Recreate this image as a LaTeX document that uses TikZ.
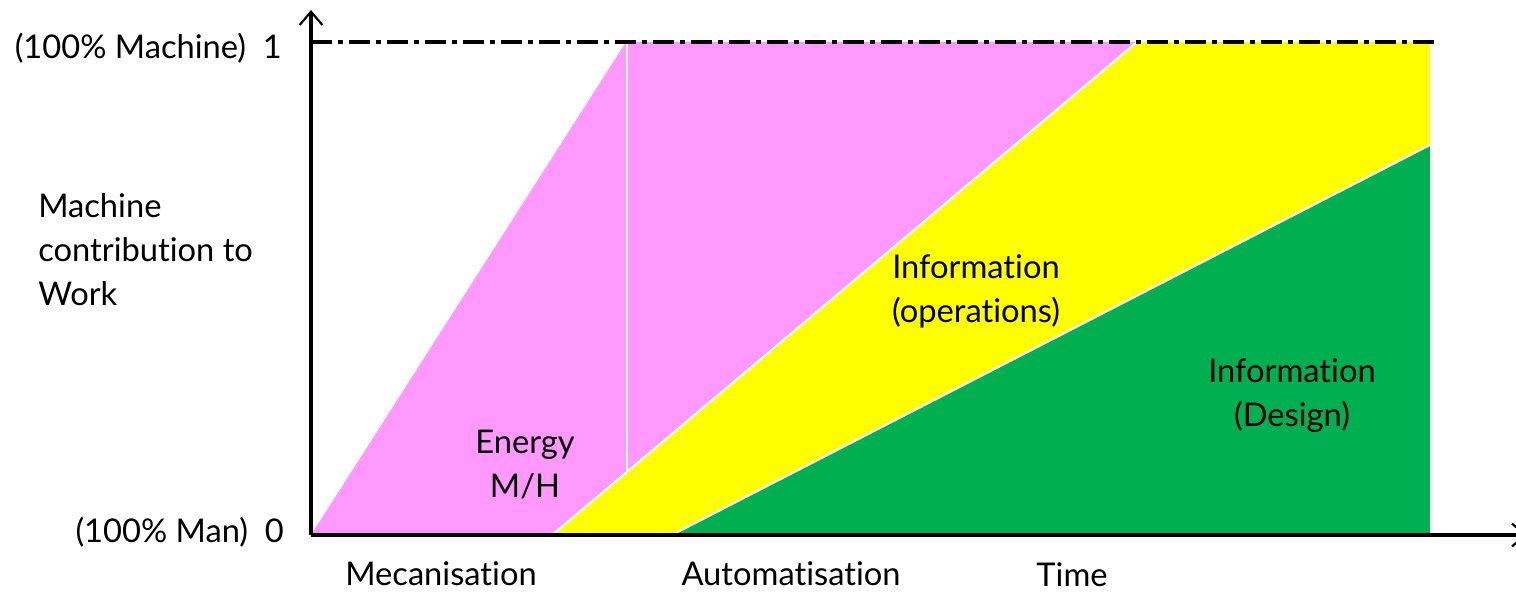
\documentclass[tikz,border=0pt]{standalone}
\usepackage{fontspec}
\setmainfont{Lato}[Ligatures={NoCommon}]
\usetikzlibrary{arrows.meta}
\definecolor{pinkE}{HTML}{FF99FF}
\definecolor{yelI}{HTML}{FFFF00}
\definecolor{grnD}{HTML}{00B050}
\begin{document}
\begin{tikzpicture}[x=0.75pt,y=-0.75pt,
  lbl/.style={font=\fontsize{24.5}{33}\selectfont, inner sep=0pt, align=center},
  axisline/.style={line width=2.3pt, -{Straight Barb[length=10pt,width=17pt,line width=1.6pt]}},
  sep/.style={white, line width=1.5pt}]
\useasboundingbox (0,0) rectangle (1516,592);
% regions
\fill[pinkE] (311,535) -- (626,42) -- (626,472.6) -- (552,535) -- cycle;
\fill[pinkE] (628,42) -- (1137,42) -- (628,470.9) -- cycle;
\fill[yelI] (552,535) -- (1137,42) -- (1430,42) -- (1430,145) -- (672,535) -- cycle;
\fill[grnD] (672,535) -- (1430,145) -- (1430,535) -- cycle;
\coordinate (ya) at (552,535);
\coordinate (yb) at (1137,42);
\coordinate (ga) at (672,535);
\coordinate (gb) at (1430,145);
\coordinate (wa) at (627,42);
\coordinate (wb) at (627,472);
\draw[sep] (ya) -- (yb);
\draw[sep] (ga) -- (gb);
\draw[sep] (wa) -- (wb);
% axes
\coordinate (O) at (311,535);
\coordinate (Ytop) at (311,10);
\coordinate (Xend) at (1527,535);
\coordinate (Dend) at (1440,42);
\coordinate (Dstart) at (311,42);
\draw[line width=2.3pt, dash pattern=on 16pt off 4.5pt on 3.5pt off 4.5pt] (Dstart) -- (Dend);
\draw[axisline] (O) -- (Ytop);
\draw[axisline] (O) -- (Xend);
% labels
\node[lbl, anchor=east] (tmax) at (282,48) {(100\% Machine)\ \ 1};
\node[lbl, anchor=east] (tmin) at (284,532) {(100\% Man)\ \ 0};
\node[lbl, anchor=west, align=left] (ylab) at (38,250) {Machine\\contribution to\\Work};
\node[lbl] (energy) at (525,465) {Energy\\M/H};
\node[lbl] (infoop) at (976,291) {Information\\(operations)};
\node[lbl] (infodes) at (1292,396) {Information\\(Design)};
\node[lbl] (mec) at (441,574) {Mecanisation};
\node[lbl] (aut) at (791,574) {Automatisation};
\node[lbl] (time) at (1072,575) {Time};
\end{tikzpicture}
\end{document}
